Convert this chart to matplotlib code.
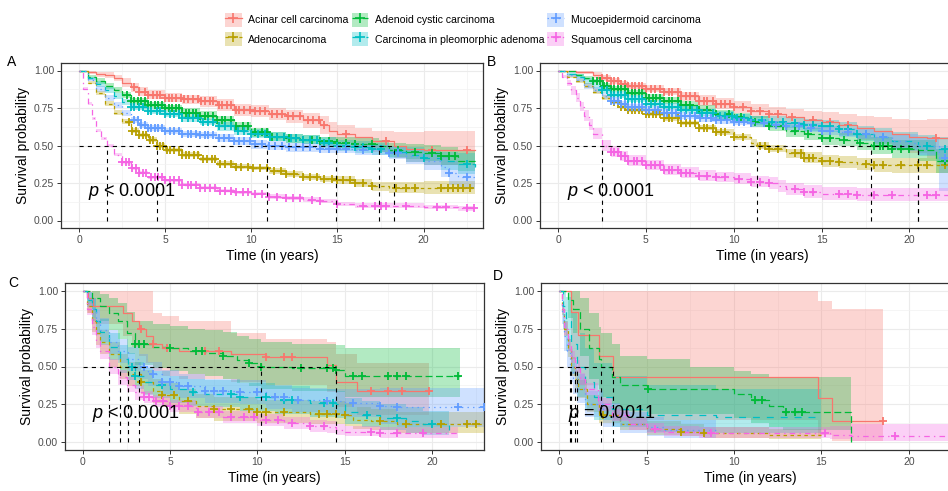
import numpy as np
import matplotlib
matplotlib.use("Agg")
import matplotlib.pyplot as plt
from matplotlib.lines import Line2D
from matplotlib.patches import Patch

plt.rcParams["font.family"] = ["Liberation Sans", "DejaVu Sans"]
plt.rcParams["mathtext.fontset"] = "custom"
plt.rcParams["mathtext.it"] = "Liberation Sans:italic"
plt.rcParams["mathtext.rm"] = "Liberation Sans"
plt.rcParams["lines.scale_dashes"] = False

keys = ["acinar", "adeno", "adenoid", "cxpa", "muco", "scc"]
labels = ["Acinar cell carcinoma", "Adenocarcinoma", "Adenoid cystic carcinoma",
          "Carcinoma in pleomorphic adenoma", "Mucoepidermoid carcinoma",
          "Squamous cell carcinoma"]
colors = ["#F8766D", "#B79F00", "#00BA38", "#00BFC4", "#619CFF", "#F564E3"]
linestyles = ["-", (0, (2.5, 2.5)), (0, (5, 2.5)), (0, (5, 5)), (0, (1, 3)), (0, (1, 3, 4, 3))]

# ---------------- panel A ----------------
A_time = {
    "acinar": [0, 0.5, 1, 1.5, 2, 2.5, 3, 3.5, 4, 5, 6, 7, 8, 9, 10, 11, 12, 13, 14, 14.5, 15, 16, 17, 18.3, 19, 20, 23],
    "adeno": [0, 0.5, 1, 1.5, 2, 2.5, 3, 3.5, 4, 4.5, 5, 6, 7, 8, 9, 10, 11, 12, 13, 14, 15, 16, 17, 18, 20, 23],
    "adenoid": [0, 0.5, 1, 1.5, 2, 2.5, 3, 4, 5, 6, 7, 8, 9, 10, 11, 12, 13, 14, 15, 16, 17.4, 18, 19, 20, 21, 22, 23],
    "cxpa": [0, 0.5, 1, 1.5, 2, 2.5, 3, 4, 5, 6, 7, 8, 9, 10, 11, 12, 13, 14, 14.9, 16, 17, 18, 19, 20, 21, 22, 23],
    "muco": [0, 0.5, 1, 1.5, 2, 2.5, 3, 3.5, 4, 5, 6, 7, 8, 9, 10, 10.9, 12, 14, 16, 18, 19, 20, 21, 21.5, 22, 23],
    "scc": [0, 0.25, 0.5, 0.75, 1, 1.25, 1.6, 2, 2.5, 3, 3.5, 4, 5, 6, 7, 8, 9, 10, 11, 12, 13, 14, 15, 16, 18, 20, 22, 23],
}
A_surv = {
    "acinar": [1, .99, .98, .97, .95, .92, .89, .86, .84, .82, .81, .80, .77, .74, .73, .71, .70, .67, .64, .60, .58, .56, .53, .50, .48, .47, .47],
    "adeno": [1, .92, .85, .78, .72, .66, .60, .57, .54, .50, .47, .44, .41, .38, .36, .35, .33, .31, .29, .28, .27, .25, .23, .22, .22, .22],
    "adenoid": [1, .96, .93, .90, .87, .84, .80, .77, .75, .72, .70, .67, .63, .59, .56, .55, .54, .53, .52, .51, .50, .47, .46, .45, .43, .40, .37],
    "cxpa": [1, .95, .91, .87, .83, .79, .76, .73, .71, .68, .66, .63, .60, .58, .56, .55, .54, .52, .50, .49, .48, .46, .44, .42, .40, .38, .36],
    "muco": [1, .94, .88, .82, .77, .72, .67, .64, .62, .60, .58, .57, .55, .53, .51, .50, .49, .48, .47, .45, .43, .40, .36, .32, .29, .27],
    "scc": [1, .88, .78, .68, .60, .55, .50, .44, .39, .35, .32, .29, .27, .24, .22, .20, .19, .18, .16, .15, .14, .13, .11, .10, .10, .09, .085, .08],
}
A_hi = {
    "acinar": [1, 1, .99, .99, .97, .95, .92, .89, .87, .85, .84, .83, .81, .78, .77, .75, .74, .72, .70, .66, .64, .62, .60, .59, .59, .60, .60],
    "adeno": [1, .93, .865, .795, .735, .675, .615, .585, .555, .515, .485, .455, .425, .395, .375, .365, .35, .33, .31, .30, .295, .275, .26, .26, .265, .27],
    "adenoid": [1, .97, .95, .92, .89, .86, .82, .79, .77, .75, .73, .70, .66, .62, .59, .58, .57, .56, .555, .55, .54, .515, .51, .505, .49, .47, .45],
    "cxpa": [1, .96, .93, .89, .85, .81, .78, .75, .73, .70, .68, .66, .63, .61, .59, .58, .57, .555, .535, .53, .52, .50, .49, .47, .46, .45, .45],
    "muco": [1, .95, .90, .84, .79, .74, .69, .66, .64, .62, .60, .59, .575, .555, .54, .53, .52, .51, .505, .49, .48, .46, .43, .40, .37, .35],
    "scc": [1, .89, .79, .69, .61, .56, .51, .45, .40, .36, .33, .30, .28, .25, .23, .21, .20, .19, .175, .165, .155, .145, .125, .115, .115, .105, .10, .10],
}
A_lo = {
    "acinar": [1, .98, .96, .95, .93, .89, .86, .83, .81, .79, .78, .76, .73, .70, .69, .67, .65, .62, .58, .54, .52, .49, .46, .42, .39, .37, .37],
    "adeno": [1, .91, .835, .765, .705, .645, .585, .555, .525, .485, .455, .425, .395, .365, .345, .335, .31, .29, .27, .26, .245, .225, .20, .185, .175, .17],
    "adenoid": [1, .95, .91, .88, .85, .82, .78, .75, .73, .69, .67, .64, .60, .56, .53, .52, .51, .50, .485, .47, .46, .425, .41, .395, .37, .33, .29],
    "cxpa": [1, .94, .89, .85, .81, .77, .74, .71, .69, .66, .64, .60, .57, .55, .53, .52, .51, .485, .465, .45, .44, .42, .39, .37, .34, .31, .27],
    "muco": [1, .93, .86, .80, .75, .70, .65, .62, .60, .58, .56, .55, .525, .505, .48, .47, .46, .45, .435, .41, .38, .34, .29, .24, .21, .19],
    "scc": [1, .87, .77, .67, .59, .54, .49, .43, .38, .34, .31, .28, .26, .23, .21, .19, .18, .17, .145, .135, .125, .115, .095, .085, .085, .075, .065, .06],
}
A_cens = {
    "acinar": [3.2, 3.5, 3.8, 4.0, 4.3, 4.5, 4.7, 5.0, 5.2, 5.4, 5.6, 5.9, 6.1, 6.3, 6.6, 6.9, 7.1, 7.3, 7.6, 7.8,
               8.1, 8.3, 8.6, 8.8, 9.1, 9.3, 9.6, 9.9, 10.2, 10.5, 10.8, 11.2, 11.5, 11.8, 12.1, 12.4, 12.8, 13.3,
               13.6, 13.9, 14.2, 15.5, 17.8, 20.5, 22.5],
    "adeno": [2.9, 3.1, 3.3, 3.5, 3.7, 3.9, 4.1, 4.3, 4.5, 4.7, 4.9, 5.1, 5.3, 5.5, 5.8, 6.0, 6.2, 6.4, 6.7, 6.9,
              7.2, 7.4, 7.7, 7.9, 8.2, 8.5, 8.8, 9.1, 9.4, 9.8, 10.1, 10.5, 10.9, 11.3, 11.7, 12.0, 12.5, 13.0,
              13.4, 13.8, 14.2, 14.7, 15.0, 15.3, 15.7, 16.0, 16.5, 17.0, 18.4, 19.0, 19.5, 21.0, 21.4, 21.7,
              22.0, 22.3, 22.7],
    "adenoid": [2.8, 3.0, 3.2, 3.4, 3.6, 3.8, 4.0, 4.2, 4.4, 4.6, 4.8, 5.0, 5.2, 5.4, 5.6, 5.8, 6.0, 6.2, 6.4,
                6.6, 6.8, 7.0, 7.3, 7.5, 7.8, 8.0, 8.3, 8.5, 8.8, 9.1, 9.5, 9.8, 10.2, 10.6, 10.9, 11.2, 11.5,
                11.9, 12.2, 12.6, 13.0, 13.5, 14.0, 14.5, 15.0, 15.5, 16.0, 17.0, 18.5, 19.5, 20.5, 21.0, 21.5,
                21.8],
    "cxpa": [3.0, 3.2, 3.5, 3.7, 4.0, 4.2, 4.5, 4.7, 5.0, 5.3, 5.5, 5.8, 6.0, 6.3, 6.6, 6.9, 7.2, 7.5, 7.8, 8.1,
             8.5, 8.8, 9.2, 9.6, 10.0, 10.4, 10.8, 11.1, 11.5, 11.9, 12.3, 12.6, 13.0, 13.4, 13.8, 14.2, 14.5,
             15.0, 15.5, 16.0, 16.5, 17.0, 17.5, 18.5, 20.0, 22.5],
    "muco": [3.2, 3.4, 3.6, 3.8, 4.0, 4.2, 4.4, 4.6, 4.8, 5.0, 5.3, 5.5, 5.8, 6.0, 6.3, 6.5, 6.8, 7.0, 7.3, 7.5,
             7.8, 8.1, 8.4, 8.7, 9.0, 9.3, 9.6, 9.9, 10.2, 10.6, 11.0, 11.4, 11.8, 12.2, 12.6, 13.0, 13.4, 14.0,
             14.5, 15.0, 15.5, 16.5, 18.0, 18.5, 21.5, 22.5],
    "scc": [2.5, 2.7, 2.9, 3.1, 3.3, 3.5, 3.7, 3.9, 4.2, 4.4, 4.6, 4.8, 5.0, 5.3, 5.5, 5.8, 6.0, 6.3, 6.5, 6.8,
            7.0, 7.3, 7.6, 7.9, 8.2, 8.5, 8.8, 9.1, 9.5, 9.8, 10.2, 10.6, 11.0, 11.5, 12.0, 12.4, 12.8, 13.5,
            14.0, 15.0, 16.5, 17.2, 17.5, 17.8, 19.0, 20.8, 21.3, 22.5, 22.9],
}

# ---------------- panel B ----------------
B_time = {
    "acinar": [0, 1, 2, 2.5, 3, 3.5, 4, 5, 6, 7, 8, 9, 10, 11, 12, 13, 14, 15, 16, 17, 18, 19, 20, 21, 24],
    "adeno": [0, 0.5, 1, 1.5, 2, 2.5, 3, 3.5, 4, 5, 6, 7, 8, 9, 10, 11, 11.3, 12, 13, 14, 15, 16, 17, 18, 19, 24],
    "adenoid": [0, 1, 1.5, 2, 2.5, 3, 4, 5, 6, 7, 8, 9, 10, 11, 12, 13, 14, 15, 16, 17, 17.8, 19, 20.5, 21.5, 24],
    "cxpa": [0, 0.5, 1, 1.5, 2, 2.5, 3, 4, 5, 6, 7, 8, 9, 10, 11, 12, 13, 14, 15, 16, 17, 18, 19, 20.5, 21.5, 24],
    "muco": [0, 0.5, 1, 1.5, 2, 2.5, 3, 3.5, 4, 5, 6, 7, 8, 9, 10, 11, 12, 13, 14, 15, 16, 17, 18, 19, 20, 20.5, 21.7, 24],
    "scc": [0, 0.25, 0.5, 0.75, 1, 1.25, 1.5, 1.75, 2, 2.5, 3, 3.5, 4, 5, 6, 7, 8, 9, 10, 11, 12, 12.5, 13, 14, 15, 17, 24],
}
B_surv = {
    "acinar": [1, .99, .97, .95, .93, .91, .90, .88, .86, .83, .80, .78, .76, .73, .71, .69, .67, .66, .64, .62, .60, .58, .56, .55, .55],
    "adeno": [1, .96, .93, .90, .86, .82, .79, .76, .74, .71, .68, .65, .62, .59, .56, .52, .50, .48, .45, .42, .40, .39, .38, .37, .37, .37],
    "adenoid": [1, .97, .95, .93, .90, .88, .85, .82, .80, .77, .74, .71, .69, .66, .63, .60, .58, .55, .54, .52, .50, .48, .47, .40, .39],
    "cxpa": [1, .98, .96, .93, .90, .87, .84, .81, .78, .76, .74, .72, .70, .68, .67, .66, .65, .64, .63, .61, .58, .56, .53, .50, .48, .47],
    "muco": [1, .97, .94, .90, .87, .83, .80, .78, .76, .74, .72, .70, .68, .67, .66, .65, .64, .63, .62, .60, .59, .58, .56, .53, .52, .50, .42, .40],
    "scc": [1, .96, .92, .87, .82, .76, .70, .64, .58, .50, .46, .43, .40, .37, .34, .32, .30, .29, .28, .26, .25, .23, .21, .19, .18, .17, .17],
}
B_hi = {
    "acinar": [1, 1, .99, .97, .95, .93, .92, .905, .885, .86, .835, .815, .80, .775, .76, .745, .73, .725, .71, .70, .69, .68, .67, .68, .70],
    "adeno": [1, .97, .945, .915, .875, .835, .805, .775, .755, .725, .695, .665, .635, .61, .58, .545, .525, .505, .48, .455, .44, .43, .42, .415, .42, .43],
    "adenoid": [1, .98, .965, .945, .92, .90, .87, .845, .825, .80, .77, .74, .72, .695, .665, .64, .62, .595, .585, .57, .555, .54, .54, .48, .48],
    "cxpa": [1, .99, .975, .95, .92, .89, .86, .83, .80, .785, .765, .745, .73, .71, .70, .695, .685, .68, .67, .655, .63, .615, .59, .57, .56, .56],
    "muco": [1, .98, .955, .92, .89, .85, .82, .80, .78, .76, .74, .72, .705, .695, .685, .675, .665, .655, .65, .63, .62, .615, .60, .58, .575, .56, .50, .49],
    "scc": [1, .97, .94, .90, .85, .79, .735, .675, .615, .535, .495, .465, .435, .405, .375, .355, .335, .325, .315, .30, .29, .27, .25, .235, .225, .22, .24],
}
B_lo = {
    "acinar": [1, .98, .95, .93, .91, .89, .88, .855, .835, .80, .765, .745, .72, .685, .66, .635, .61, .595, .57, .54, .51, .48, .45, .42, .40],
    "adeno": [1, .95, .915, .885, .845, .805, .775, .745, .725, .695, .665, .635, .605, .57, .54, .495, .475, .455, .42, .385, .36, .35, .34, .325, .32, .31],
    "adenoid": [1, .96, .935, .915, .88, .86, .83, .795, .775, .74, .71, .68, .66, .625, .595, .56, .54, .505, .495, .47, .445, .42, .40, .32, .30],
    "cxpa": [1, .97, .945, .91, .88, .85, .82, .79, .76, .735, .715, .695, .67, .65, .64, .625, .615, .60, .59, .565, .53, .505, .47, .43, .40, .38],
    "muco": [1, .96, .925, .88, .85, .81, .78, .76, .74, .72, .70, .68, .655, .645, .635, .625, .615, .605, .59, .57, .56, .545, .52, .48, .465, .44, .20, .18],
    "scc": [1, .95, .90, .84, .79, .73, .665, .605, .545, .465, .425, .395, .365, .335, .305, .285, .265, .255, .245, .225, .21, .19, .17, .15, .14, .13, .12],
}
B_cens = {
    "acinar": [2.5, 2.8, 3.0, 3.2, 3.4, 3.6, 3.8, 4.0, 4.2, 4.4, 4.6, 4.8, 5.0, 5.3, 5.5, 5.8, 6.0, 6.3, 6.5, 6.8,
               7.0, 7.3, 7.5, 7.8, 8.0, 8.3, 8.5, 8.8, 9.0, 9.3, 9.5, 9.8, 10.0, 10.5, 11.0, 11.5, 12.0, 12.5,
               13.3, 14.5, 15.5, 16.5, 21.5],
    "adeno": [3.2, 3.4, 3.6, 3.8, 4.0, 4.2, 4.4, 4.6, 4.8, 5.0, 5.2, 5.4, 5.6, 5.8, 6.0, 6.3, 6.5, 6.8, 7.0, 7.3,
              7.5, 7.8, 8.0, 8.3, 8.5, 8.8, 9.0, 9.3, 9.5, 10.0, 10.5, 11.5, 11.8, 12.0, 12.5, 13.5, 13.8, 14.0,
              14.3, 14.5, 15.0, 15.5, 16.0, 17.5, 18.0, 18.5, 19.5, 20.5, 21.0, 22.0],
    "adenoid": [2.0, 2.2, 2.4, 2.6, 2.8, 3.0, 3.2, 3.4, 3.6, 3.8, 4.0, 4.2, 4.4, 4.6, 4.8, 5.0, 5.2, 5.4, 5.6,
                5.8, 6.0, 6.3, 6.5, 6.8, 7.0, 7.3, 7.5, 8.0, 8.5, 9.0, 9.7, 10.4, 11.2, 12.0, 12.8, 13.5, 14.2,
                15.0, 15.5, 16.3, 17.2, 18.0, 18.3, 18.5, 18.8, 19.0, 19.5, 20.0, 22.0],
    "cxpa": [2.5, 2.8, 3.0, 3.2, 3.4, 3.6, 3.8, 4.0, 4.2, 4.4, 4.6, 4.8, 5.0, 5.3, 5.5, 5.8, 6.0, 6.3, 6.5, 6.8,
             7.0, 7.3, 7.6, 7.9, 8.2, 8.5, 8.8, 9.2, 9.5, 9.9, 10.2, 10.6, 11.0, 11.6, 12.2, 12.8, 13.5, 14.0,
             14.5, 15.0, 15.5, 16.0, 16.5, 17.0, 17.5, 18.5, 21.0, 22.0],
    "muco": [3.0, 3.2, 3.4, 3.6, 3.8, 4.0, 4.2, 4.4, 4.6, 4.8, 5.0, 5.2, 5.5, 5.7, 6.0, 6.2, 6.5, 6.7, 7.0, 7.2,
             7.5, 7.8, 8.1, 8.4, 8.7, 9.0, 9.3, 9.6, 10.0, 10.3, 10.6, 11.0, 11.7, 12.4, 13.0, 13.7, 14.4, 15.0,
             15.5, 16.5, 17.5, 18.5, 22.0],
    "scc": [3.0, 3.2, 3.4, 3.6, 3.8, 4.0, 4.3, 4.5, 4.8, 5.0, 5.3, 5.5, 5.8, 6.0, 6.3, 6.5, 6.8, 7.0, 7.3, 7.5,
            8.0, 8.5, 9.0, 9.5, 10.3, 11.0, 11.5, 12.0, 13.5, 14.0, 14.5, 16.0, 16.5, 17.0, 18.0, 19.0, 21.0,
            21.5],
}

# ---------------- panel C ----------------
C_time = {
    "acinar": [0, 0.3, 0.6, 2.3, 2.8, 3.2, 3.6, 4.0, 4.5, 5.5, 8.5, 10.5, 14, 14.5, 15.7, 19.8],
    "adeno": [0, 0.25, 0.5, 0.75, 1, 1.5, 2.1, 2.6, 3.3, 4, 4.5, 5.5, 6.5, 7.5, 10, 13, 15, 15.5, 16.5, 18, 23],
    "adenoid": [0, 0.5, 1, 1.5, 2, 2.5, 3, 4, 5, 6, 7, 8, 8.8, 9.5, 10.2, 12, 14, 14.5, 15, 21.6],
    "cxpa": [0, 0.25, 0.5, 0.75, 1, 1.5, 2.1, 2.6, 3, 3.5, 4, 5, 6, 7, 9, 11, 13, 14.5, 15, 16, 17, 18.5, 19.5, 21],
    "muco": [0, 0.25, 0.5, 0.75, 1, 1.5, 2, 2.6, 3.2, 3.7, 4.5, 5.5, 7, 9, 10.5, 12, 14, 15, 17, 18, 23],
    "scc": [0, 0.25, 0.5, 0.75, 1, 1.5, 2, 2.5, 3, 3.5, 4, 5, 6.5, 8, 10, 11.5, 13, 14, 14.5, 15, 17, 21.5],
}
C_surv = {
    "acinar": [1, .95, .90, .85, .80, .75, .70, .65, .62, .60, .58, .56, .51, .40, .34, .34],
    "adeno": [1, .90, .80, .72, .66, .58, .50, .45, .40, .34, .31, .27, .24, .22, .20, .19, .18, .15, .14, .12, .12],
    "adenoid": [1, .95, .90, .85, .80, .72, .65, .63, .62, .60, .59, .57, .54, .52, .50, .49, .49, .48, .44, .44],
    "cxpa": [1, .94, .88, .80, .73, .63, .55, .50, .44, .40, .38, .35, .33, .32, .30, .28, .26, .25, .20, .18, .16, .14, .12, .08],
    "muco": [1, .95, .88, .80, .74, .66, .60, .55, .50, .45, .40, .37, .34, .33, .30, .28, .27, .26, .24, .23, .23],
    "scc": [1, .88, .76, .67, .60, .50, .43, .38, .33, .30, .27, .24, .20, .17, .15, .13, .11, .10, .08, .07, .06, .05],
}
C_hi = {
    "acinar": [1, 1, 1, 1, 1, 1, 1, .85, .83, .80, .72, .68, .66, .58, .52, .52],
    "adeno": [1, .95, .87, .80, .74, .66, .58, .53, .48, .42, .39, .35, .32, .30, .28, .27, .26, .23, .22, .20, .20],
    "adenoid": [1, 1, .98, .95, .92, .86, .80, .78, .77, .75, .74, .73, .70, .68, .66, .65, .65, .64, .62, .62],
    "cxpa": [1, .99, .95, .88, .81, .72, .64, .59, .53, .49, .47, .44, .42, .41, .39, .37, .35, .34, .29, .27, .25, .23, .21, .17],
    "muco": [1, .99, .95, .88, .82, .74, .68, .63, .58, .53, .48, .45, .42, .41, .38, .36, .35, .35, .36, .36, .36],
    "scc": [1, .92, .81, .72, .65, .55, .48, .43, .38, .34, .31, .28, .24, .21, .19, .17, .15, .14, .12, .11, .10, .09],
}
C_lo = {
    "acinar": [1, .85, .78, .70, .63, .57, .52, .47, .44, .42, .40, .38, .33, .23, .18, .18],
    "adeno": [1, .85, .73, .64, .58, .50, .42, .37, .32, .26, .23, .19, .16, .14, .13, .12, .11, .09, .08, .06, .06],
    "adenoid": [1, .88, .80, .74, .68, .58, .51, .49, .47, .45, .44, .42, .39, .37, .35, .34, .34, .33, .30, .30],
    "cxpa": [1, .89, .80, .71, .64, .54, .46, .41, .35, .31, .29, .26, .24, .23, .21, .19, .17, .16, .12, .10, .08, .06, .05, .03],
    "muco": [1, .91, .82, .72, .66, .58, .52, .47, .42, .37, .32, .29, .26, .25, .22, .20, .19, .17, .12, .10, .10],
    "scc": [1, .84, .71, .62, .55, .45, .38, .33, .28, .26, .23, .20, .16, .13, .11, .09, .07, .06, .05, .04, .03, .02],
}
C_cens = {
    "acinar": [3.3, 4.0, 4.8, 7.0, 7.8, 10.5, 11.5, 12, 16.5, 17.5, 18.3, 19.8],
    "adeno": [3.3, 4.5, 5.2, 6.0, 7.5, 8.5, 9.5, 10, 10.5, 11.5, 13.5, 14, 14.5, 15, 17, 18.5, 20.5, 22, 22.5],
    "adenoid": [3.0, 3.2, 3.5, 5.0, 6.5, 6.8, 8.0, 9.5, 10.2, 12.5, 14, 14.3, 14.5, 15.5, 16, 17.5, 18, 18.5, 21.5],
    "cxpa": [2.8, 3.0, 4.5, 6.3, 8.5, 9.0, 10.5, 11.5, 12.0, 13.8, 14.3, 16.3, 18, 20],
    "muco": [3.5, 4.0, 4.5, 5.0, 5.5, 6.0, 7.0, 7.5, 8.0, 9.0, 10, 11, 11.5, 12.3, 14, 15.5, 17, 18, 21.5, 23],
    "scc": [3.5, 3.8, 4.2, 4.6, 5.0, 5.5, 6.0, 6.6, 7.2, 7.8, 8.5, 9.2, 9.8, 10.5, 11.2, 12, 13, 13.8, 16.5, 17, 18, 19.5],
}

# ---------------- panel D ----------------
D_time = {
    "acinar": [0, 0.7, 1.1, 2.3, 3.1, 14.8, 15.6, 18.5],
    "adeno": [0, 0.15, 0.3, 0.5, 0.7, 0.9, 1.1, 1.6, 2.3, 3.5, 5, 7, 8.3, 12, 15],
    "adenoid": [0, 0.5, 0.8, 1.2, 1.7, 2.3, 2.4, 3.0, 3.5, 5.0, 7.5, 10, 11, 12, 12.8, 16.7],
    "cxpa": [0, 0.2, 0.4, 0.7, 1.0, 1.5, 2, 3, 5, 9, 15],
    "muco": [0, 0.15, 0.3, 0.45, 0.6, 0.8, 1.0, 1.5, 2.5, 3.5, 5, 6, 9],
    "scc": [0, 0.15, 0.3, 0.5, 0.7, 0.9, 1.2, 1.5, 2.2, 3, 4, 5, 6, 8, 15, 15.5, 16.7, 23],
}
D_surv = {
    "acinar": [1, .86, .71, .57, .43, .29, .14, .14],
    "adeno": [1, .88, .75, .62, .50, .42, .35, .25, .18, .12, .09, .07, .06, .05, .05],
    "adenoid": [1, .94, .88, .75, .62, .55, .50, .43, .38, .35, .35, .32, .28, .24, .20, 0],
    "cxpa": [1, .90, .80, .65, .50, .40, .30, .22, .18, .17, .17],
    "muco": [1, .85, .70, .60, .50, .42, .35, .25, .17, .12, .10, .08, .06],
    "scc": [1, .88, .75, .64, .56, .50, .42, .35, .25, .18, .12, .09, .07, .06, .06, .05, .04, .04],
}
D_hi = {
    "acinar": [1, 1, 1, 1, 1, .93, .88, .88],
    "adeno": [1, .92, .80, .68, .56, .48, .41, .31, .24, .17, .14, .12, .10, .09, .09],
    "adenoid": [1, 1, 1, .95, .85, .76, .72, .65, .57, .55, .50, .47, .45, .43, .43, .43],
    "cxpa": [1, 1, .96, .86, .72, .62, .52, .44, .38, .35, .35],
    "muco": [1, .92, .80, .70, .60, .52, .45, .34, .26, .20, .17, .15, .13],
    "scc": [1, .91, .79, .68, .60, .54, .46, .39, .29, .22, .16, .13, .11, .10, .10, .11, .12, .12],
}
D_lo = {
    "acinar": [1, .55, .38, .25, .15, .05, .01, .01],
    "adeno": [1, .84, .70, .56, .44, .36, .29, .20, .13, .08, .05, .04, .03, .02, .02],
    "adenoid": [1, .82, .72, .57, .42, .35, .30, .25, .21, .19, .19, .16, .13, .10, .08, .08],
    "cxpa": [1, .75, .60, .45, .30, .22, .15, .10, .07, .06, .06],
    "muco": [1, .78, .60, .50, .40, .32, .26, .17, .10, .06, .04, .03, .02],
    "scc": [1, .85, .71, .60, .52, .46, .38, .31, .21, .14, .08, .06, .04, .03, .03, .02, .01, .01],
}
D_cens = {
    "acinar": [18.5],
    "adeno": [2.5, 7.0, 8.3],
    "adenoid": [5.1, 11.2, 11.6, 13.0, 13.5, 13.9],
    "cxpa": [],
    "muco": [],
    "scc": [5.5, 8.7, 15.2, 19.2],
}

pvals = ["$p$ < 0.0001", "$p$ < 0.0001", "$p$ < 0.0001", "$p$ = 0.0011"]


def surv_at(t, times, surv):
    idx = np.searchsorted(times, t, side="right") - 1
    return np.asarray(surv)[idx]


def draw_panel(ax, time, surv, lo, hi, cens, pval, xlim):
    for k, c in zip(keys, colors):
        ax.fill_between(time[k], lo[k], hi[k], step="post", color=c, alpha=0.3, lw=0, zorder=2)
    for k, c, ls in zip(keys, colors, linestyles):
        ax.step(time[k], surv[k], where="post", color=c, lw=0.9, ls=ls, zorder=3)
    for k, c in zip(keys, colors):
        if cens[k]:
            ax.plot(cens[k], surv_at(cens[k], time[k], surv[k]), ls="none", marker="+",
                    ms=6, mew=1.3, color=c, zorder=4)
    # median survival lines
    medians = []
    for k in keys:
        s = np.asarray(surv[k])
        below = np.where(s <= 0.5)[0]
        if len(below):
            medians.append(time[k][below[0]])
    if medians:
        ax.plot([0, max(medians)], [0.5, 0.5], color="black", lw=0.8, ls=(0, (3, 3)), zorder=5)
        for m in medians:
            ax.plot([m, m], [0, 0.5], color="black", lw=0.8, ls=(0, (3, 3)), zorder=5)
    ax.text(0.5, 0.19, pval, fontsize=13, ha="left", va="center", zorder=6)

    ax.set_xlim(*xlim)
    ax.set_ylim(-0.05, 1.05)
    ax.set_xticks([0, 5, 10, 15, 20])
    ax.set_xticks([2.5, 7.5, 12.5, 17.5, 22.5], minor=True)
    ax.set_yticks([0, 0.25, 0.5, 0.75, 1.0])
    ax.set_yticklabels(["0.00", "0.25", "0.50", "0.75", "1.00"])
    ax.set_yticks([0.125, 0.375, 0.625, 0.875], minor=True)
    ax.grid(True, which="major", color="#EBEBEB", lw=0.8)
    ax.grid(True, which="minor", color="#F2F2F2", lw=0.5)
    ax.set_axisbelow(True)
    ax.tick_params(which="major", length=3, width=0.7, color="#333333",
                   labelsize=7.5, labelcolor="#4D4D4D", pad=2)
    ax.tick_params(which="minor", length=0)
    for sp in ax.spines.values():
        sp.set_color("#333333")
        sp.set_linewidth(0.9)
    ax.set_xlabel("Time (in years)", fontsize=10, labelpad=3)
    ax.set_ylabel("Survival probability", fontsize=10, labelpad=3)


W, H = 948, 491
fig = plt.figure(figsize=(W / 100, H / 100), dpi=100)


def add_axes(left, right, top, bottom):
    return fig.add_axes([left / W, 1 - bottom / H, (right - left) / W, (bottom - top) / H])


axA = add_axes(61, 483, 63, 228)
axB = add_axes(540, 985, 63, 228)
axC = add_axes(65, 484, 283, 450)
axD = add_axes(541, 959, 283, 450)

draw_panel(axA, A_time, A_surv, A_lo, A_hi, A_cens, pvals[0], (-1.05, 23.45))
draw_panel(axB, B_time, B_surv, B_lo, B_hi, B_cens, pvals[1], (-1.03, 24.3))
draw_panel(axC, C_time, C_surv, C_lo, C_hi, C_cens, pvals[2], (-1.03, 22.98))
draw_panel(axD, D_time, D_surv, D_lo, D_hi, D_cens, pvals[3], (-1.03, 22.86))

for letter, x, y in [("A", 7, 62), ("B", 487, 62), ("C", 8, 283), ("D", 493, 276)]:
    fig.text(x / W, 1 - y / H, letter, fontsize=10, ha="left", va="center")

handles = [(Patch(facecolor=c, alpha=0.3, edgecolor="none"),
            Line2D([], [], color=c, ls=ls, lw=0.9, marker="+", ms=7, mew=1.2))
           for c, ls in zip(colors, linestyles)]
fig.legend(handles, labels, loc="center", bbox_to_anchor=(0.488, 0.94), ncol=3,
           frameon=False, fontsize=7.6, handlelength=1.6, handleheight=1.6,
           handletextpad=0.6, columnspacing=0.3, labelspacing=0.55, borderpad=0)

fig.savefig("out.png", dpi=100)
